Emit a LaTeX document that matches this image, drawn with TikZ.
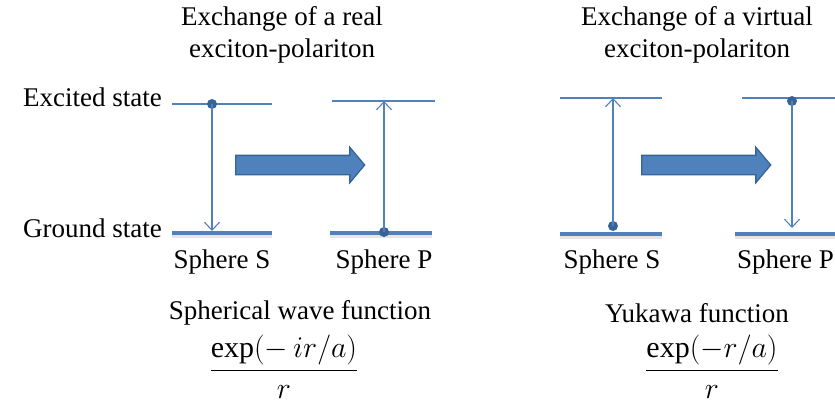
\documentclass[tikz,border=0pt]{standalone}
\usepackage{fix-cm}
\usepackage{fontspec}
\setmainfont{Liberation Serif}
\usetikzlibrary{shapes.arrows,arrows.meta}
\definecolor{lvl}{HTML}{4F81BD}
\definecolor{lvldark}{HTML}{35649A}
\tikzset{
  upper/.style={draw=lvl,line width=1.2},
  lower/.style={draw=lvl,line width=4,preaction={draw=black!10,line width=3,transform canvas={yshift=-3}}},
  jump/.style={draw=lvl,line width=1.1,-{Straight Barb[length=8,width=15]}},
  dot/.style={circle,fill=lvldark,inner sep=0,minimum size=10},
  txt/.style={font=\fontsize{27}{32}\selectfont,inner sep=0},
  maths/.style={font=\fontsize{30}{36}\selectfont,inner sep=0},
  bigarrow/.style={single arrow,draw=lvldark,line width=1.3,fill=lvl,inner xsep=0,inner ysep=9,minimum height=129,single arrow head extend=8,single arrow tip angle=100,anchor=west}
}
\begin{document}
\begin{tikzpicture}[x=1pt,y=-1pt]
\useasboundingbox (0,0) rectangle (835,408);
% titles
\node[txt,align=center] (tl) at (282,35) {Exchange of a real\\exciton-polariton};
\node[txt,align=center] (tr) at (697,35) {Exchange of a virtual\\exciton-polariton};
% left: real exchange
\draw[upper] (172,104) -- (272,104);
\draw[lower] (172,233) -- (272,233);
\draw[upper] (332,101) -- (435,101);
\draw[lower] (330,233) -- (432,233);
\node[dot] (sa) at (212,104) {};
\coordinate (sb) at (212,231);
\node[dot] (pa) at (384,232) {};
\coordinate (pb) at (384,101);
\draw[jump] (sa.center) -- (sb);
\draw[jump] (pa.center) -- (pb);
\node[bigarrow] (al) at (235,165) {};
\node[txt,anchor=east] (ex) at (162,97) {Excited state};
\node[txt,anchor=east] (gr) at (162,228) {Ground state};
\node[txt] (ls) at (222,262) {Sphere S};
\node[txt] (lp) at (384,262) {Sphere P};
\node[txt] (lw) at (300,313) {Spherical wave function};
\node[maths] (lf) at (284,367) {$\displaystyle\frac{\exp(-\,ir/a)}{r}$};
% right: virtual exchange
\draw[upper] (560,98) -- (662,98);
\draw[lower] (560,234) -- (662,234);
\draw[upper] (742,98) -- (835,98);
\draw[lower] (735,234) -- (835,234);
\node[dot] (sc) at (613,226) {};
\coordinate (sd) at (613,98);
\node[dot] (pc) at (792,101) {};
\coordinate (pd) at (792,228);
\draw[jump] (sc.center) -- (sd);
\draw[jump] (pc.center) -- (pd);
\node[bigarrow] (ar) at (641,165) {};
\node[txt] (rs) at (612,262) {Sphere S};
\node[txt,anchor=west] (rp) at (737,262) {Sphere P};
\node[txt] (rw) at (697,313) {Yukawa function};
\node[maths] (rf) at (712,367) {$\displaystyle\frac{\exp(-r/a)}{r}$};
\end{tikzpicture}
\end{document}
